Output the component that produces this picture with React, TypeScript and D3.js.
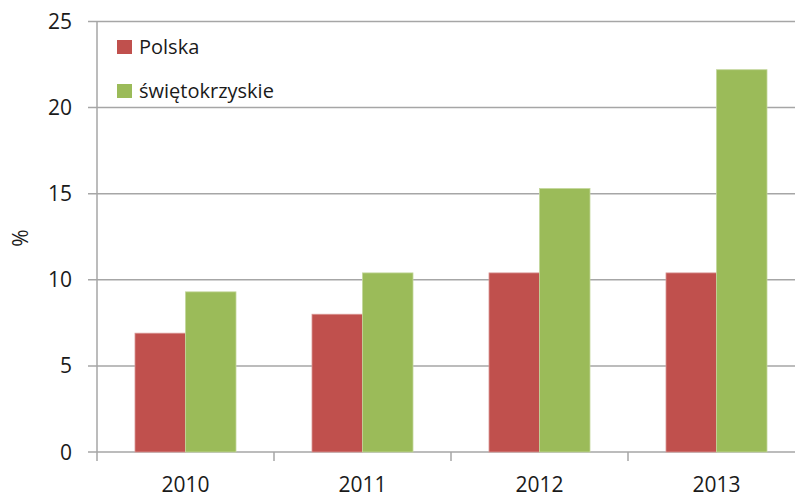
import React from "react";
import * as d3 from "d3";

const categories = ["2010", "2011", "2012", "2013"];
const seriesNames = ["Polska", "świętokrzyskie"];
const polska = [6.9, 8.0, 10.4, 10.4];
const swietokrzyskie = [9.3, 10.4, 15.3, 22.2];
const yTicks = [0, 5, 10, 15, 20, 25];
const colors = ["#C0504D", "#9BBB59"];
const strokes = ["#D99694", "#C3D69B"];

const W = 795;
const H = 498;
const FONT = "'Open Sans', 'Noto Sans', sans-serif";

export default function App() {
  const x0 = 97;
  const band = 177;
  const x = d3
    .scaleBand<string>()
    .domain(categories)
    .range([x0, x0 + band * categories.length])
    .paddingInner(0)
    .paddingOuter(0);
  const y = d3.scaleLinear().domain([0, 25]).range([452, 21.5]);
  const barW = 50.5;
  const groupOffset = 38;
  const series = [polska, swietokrzyskie];

  return (
    <svg
      width={W}
      height={H}
      style={{ position: "absolute", left: 0, top: 0, background: "#fff" }}
      fontFamily={FONT}
    >
      {yTicks.map((t) => (
        <line
          key={"g" + t}
          x1={88}
          x2={W}
          y1={y(t)}
          y2={y(t)}
          stroke="#A6A6A6"
          strokeWidth={1.5}
        />
      ))}
      {yTicks.map((t) => (
        <text
          key={"yl" + t}
          x={72}
          y={y(t)}
          dy="0.36em"
          textAnchor="end"
          fontSize={21}
          fill="#1a1a1a"
        >
          {t}
        </text>
      ))}
      {series.map((vals, si) =>
        vals.map((v, i) => (
          <rect
            key={"b" + si + "-" + i}
            x={(x(categories[i]) as number) + groupOffset + si * barW}
            y={y(v)}
            width={barW}
            height={y(0) - y(v)}
            fill={colors[si]}
            stroke={strokes[si]}
            strokeWidth={0.8}
          />
        ))
      )}
      <line x1={x0} x2={x0} y1={y(25)} y2={y(0)} stroke="#A6A6A6" strokeWidth={1.5} />
      {categories.map((c) => (
        <line
          key={"xt" + c}
          x1={x(c) as number}
          x2={x(c) as number}
          y1={y(0)}
          y2={y(0) + 9}
          stroke="#A6A6A6"
          strokeWidth={1.5}
        />
      ))}
      {categories.map((c) => (
        <text
          key={"xl" + c}
          x={(x(c) as number) + groupOffset + barW}
          y={492}
          textAnchor="middle"
          fontSize={21}
          fill="#1a1a1a"
        >
          {c}
        </text>
      ))}
      <text
        transform={`translate(28, 238) rotate(-90)`}
        textAnchor="middle"
        fontSize={21}
        fill="#1a1a1a"
      >
        %
      </text>
      {seriesNames.map((n, i) => (
        <g key={"lg" + n} transform={`translate(117, ${40 + i * 44})`}>
          <rect width={15} height={14} fill={colors[i]} />
          <text x={22} y={7} dy="0.36em" fontSize={20} fill="#1a1a1a">
            {n}
          </text>
        </g>
      ))}
    </svg>
  );
}
